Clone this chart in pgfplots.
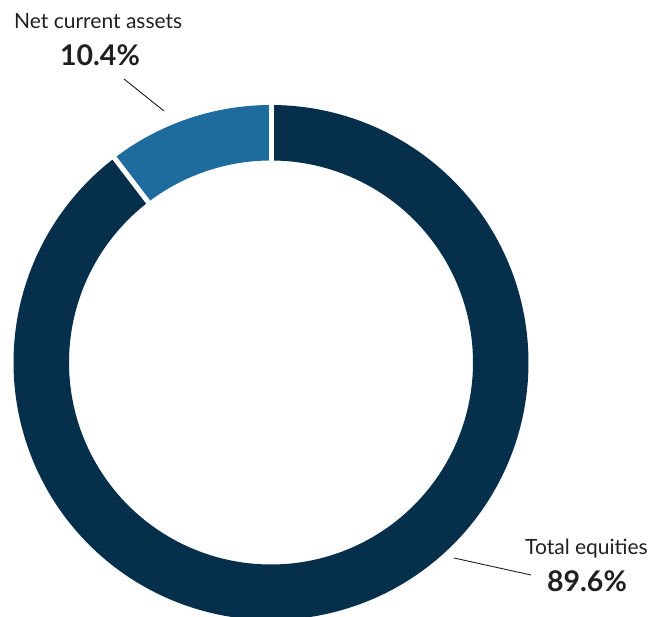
\documentclass[border=0pt]{standalone}
\usepackage{pgfplots}
\usepackage{pgfplotstable}
\pgfplotsset{compat=1.18}
\usepackage{fontspec}
\setmainfont{Lato}
\definecolor{darkseg}{HTML}{062F4C}
\definecolor{lightseg}{HTML}{1E6B9D}
\definecolor{txt}{HTML}{231F20}
\pgfplotstableread{
label value
NetCurrentAssets 10.4
TotalEquities 89.6
}\shares
\pgfplotstablegetelem{0}{value}\of\shares \let\va\pgfplotsretval
\pgfplotstablegetelem{1}{value}\of\shares \let\vb\pgfplotsretval
\pgfmathsetmacro{\aStart}{90}
\pgfmathsetmacro{\aMid}{90+3.6*\va}
\pgfmathsetmacro{\aEnd}{\aMid+3.6*\vb}
\def\cx{271}\def\cy{253.5}\def\rr{229.75}
\begin{document}
\begin{tikzpicture}
\begin{axis}[
  scale only axis, width=653pt, height=616pt,
  xmin=0, xmax=653, ymin=0, ymax=616,
  hide axis, clip=true,
]
\addplot[lightseg, line width=55.5pt, line cap=butt, domain=\aStart:\aMid, samples=60, smooth]
  ({\cx+\rr*cos(x)},{\cy+\rr*sin(x)});
\addplot[darkseg, line width=55.5pt, line cap=butt, domain=\aMid:\aEnd, samples=200, smooth]
  ({\cx+\rr*cos(x)},{\cy+\rr*sin(x)});
\addplot[white, line width=5pt, domain=195:265, samples=2]
  ({\cx+x*cos(\aStart)},{\cy+x*sin(\aStart)});
\addplot[white, line width=5pt, domain=195:265, samples=2]
  ({\cx+x*cos(\aMid)},{\cy+x*sin(\aMid)});
\draw[txt, line width=0.9pt] (axis cs:124,537) -- (axis cs:164,505);
\draw[txt, line width=0.9pt] (axis cs:454,58) -- (axis cs:531,41);
\node[anchor=base west, inner sep=0, text=txt, font=\fontsize{21}{24}\selectfont] at (axis cs:14,587) {Net current assets};
\node[anchor=base, inner sep=0, text=txt, font=\fontsize{28.5}{32}\selectfont\bfseries] at (axis cs:100,550) {10.4\%};
\node[anchor=base east, inner sep=0, text=txt, font=\fontsize{21}{24}\selectfont] at (axis cs:648,62) {Total equities};
\node[anchor=base, inner sep=0, text=txt, font=\fontsize{28.5}{32}\selectfont\bfseries] at (axis cs:587,25) {89.6\%};
\end{axis}
\pgfresetboundingbox
\path[use as bounding box] (current axis.south west) rectangle (current axis.north east);
\end{tikzpicture}
\end{document}
